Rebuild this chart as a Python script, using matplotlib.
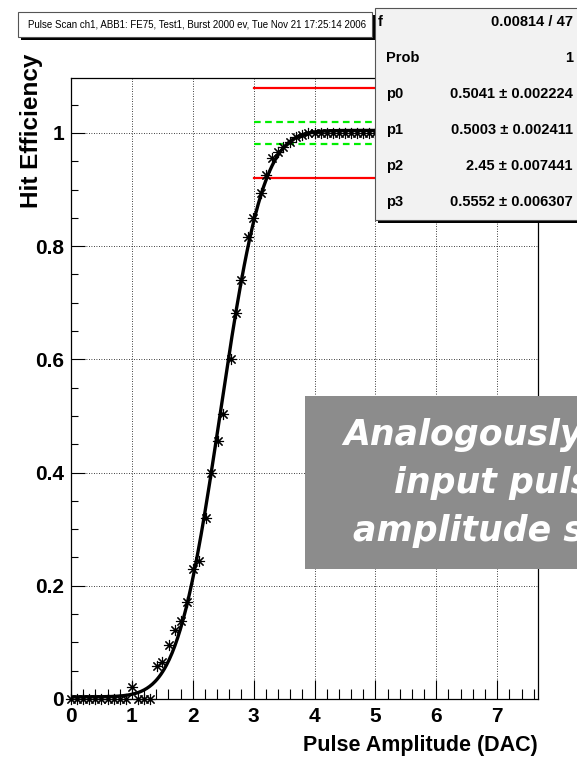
import math
import numpy as np
import matplotlib
matplotlib.use('Agg')
import matplotlib.pyplot as plt
from matplotlib.patches import Rectangle
from matplotlib.ticker import MultipleLocator

# pulse scan points (amplitude in DAC, hit efficiency)
amp = [0.0, 0.1, 0.2, 0.3, 0.4, 0.5, 0.6, 0.7, 0.8, 0.9,
       1.0, 1.1, 1.2, 1.3, 1.41, 1.5, 1.61, 1.71, 1.8, 1.9,
       2.0, 2.1, 2.21, 2.3, 2.41, 2.5, 2.62, 2.71, 2.8, 2.9,
       2.99, 3.12, 3.2, 3.3, 3.4, 3.48, 3.6, 3.7, 3.8, 3.9,
       4.0, 4.1, 4.2, 4.3, 4.4, 4.5, 4.6, 4.7, 4.8, 4.9,
       5.0, 5.1, 5.2, 5.3, 5.4, 5.5, 5.6, 5.7, 5.8, 5.9,
       6.0, 6.1, 6.2, 6.3, 6.4, 6.5, 6.6, 6.7, 6.8, 6.9,
       7.0, 7.1, 7.2, 7.3, 7.4, 7.5, 7.6]
eff = [0.0, 0.0, 0.0, 0.0, 0.0, 0.0, 0.0, 0.0, 0.0, 0.0,
       0.022, 0.0, 0.0, 0.0, 0.058, 0.065, 0.095, 0.122, 0.138, 0.172,
       0.229, 0.243, 0.32, 0.399, 0.455, 0.503, 0.60, 0.682, 0.74, 0.816,
       0.85, 0.894, 0.926, 0.955, 0.966, 0.975, 0.984, 0.993, 0.997, 0.999,
       1.0, 0.999, 1.0, 1.0, 0.999, 1.0, 1.0, 1.0, 0.999, 1.0,
       1.0, 1.0, 1.0, 0.999, 1.0, 1.0, 1.0, 1.0, 1.0, 1.0,
       1.0, 1.0, 1.0, 1.0, 1.0, 1.0, 1.0, 1.0, 1.0, 1.0,
       1.0, 1.0, 1.0, 1.0, 1.0, 1.0, 1.0]

# fit result (erf) as printed in the stats box
fit_names = ['p0', 'p1', 'p2', 'p3']
fit_vals = [0.5041, 0.5003, 2.45, 0.5552]
fit_errs = ['0.002224', '0.002411', '0.007441', '0.006307']
chi2_ndf = '0.00814 / 47'
prob = '1'

# limit lines drawn from 3 DAC onwards
red_levels = [1.08, 0.92]
green_levels = [1.02, 0.98]
band_start = 3.0

title = 'Pulse Scan ch1, ABB1: FE75, Test1, Burst 2000 ev, Tue Nov 21 17:25:14 2006'
note_lines = ['Analogously the', 'input pulse', 'amplitude scan']

W, H = 577, 757
fig = plt.figure(figsize=(W / 100, H / 100), dpi=100)
fig.patch.set_facecolor('white')


def fx(px):
    return px / W


def fy(py):
    return 1 - py / H


root_font = 'Liberation Sans'

ax = fig.add_axes([fx(71), fy(699), fx(538) - fx(71), fy(78) - fy(699)])
ax.set_xlim(0, 7.67)
ax.set_ylim(0, 1.097)

# grid
ax.xaxis.set_major_locator(MultipleLocator(1))
ax.xaxis.set_minor_locator(MultipleLocator(0.2))
ax.yaxis.set_major_locator(MultipleLocator(0.2))
ax.yaxis.set_minor_locator(MultipleLocator(0.05))
ax.grid(True, which='major', color='black', linestyle=(0, (1, 2)), linewidth=0.6)
ax.set_axisbelow(True)

ax.tick_params(axis='x', which='major', direction='in', length=14, width=0.8,
               top=False, labelsize=15, pad=6)
ax.tick_params(axis='x', which='minor', direction='in', length=7, width=0.8, top=False)
ax.tick_params(axis='y', which='major', direction='in', length=10, width=0.8,
               right=False, labelsize=15, pad=5)
ax.tick_params(axis='y', which='minor', direction='in', length=5, width=0.8, right=False)
for lab in ax.get_xticklabels() + ax.get_yticklabels():
    lab.set_fontfamily(root_font)
    lab.set_fontweight('bold')
ax.yaxis.set_major_formatter(plt.FuncFormatter(lambda v, p: '%g' % round(v, 2)))
for s in ax.spines.values():
    s.set_linewidth(0.9)

# fit curve
xs = np.linspace(0, 7.67, 500)
erf = np.vectorize(math.erf)
ys = fit_vals[0] + fit_vals[1] * erf((xs - fit_vals[2]) / (math.sqrt(2) * fit_vals[3]))
ax.plot(xs, ys, color='black', linewidth=2.4, zorder=3)

# data points
ax.plot(amp, eff, linestyle='none', marker=(8, 2, 0), markersize=8,
        markeredgewidth=0.8, color='black', clip_on=False, zorder=4)

# limit lines
for lv in red_levels:
    ax.plot([band_start, 7.67], [lv, lv], color='#ff0000', linewidth=1.6, zorder=2)
for lv in green_levels:
    ax.plot([band_start, 7.67], [lv, lv], color='#00ee00', linewidth=1.6,
            linestyle=(0, (3, 2)), zorder=2)

fig.text(fx(538), fy(745), 'Pulse Amplitude (DAC)', ha='right', va='center',
         fontsize=15.5, fontweight='bold', family=root_font)
fig.text(fx(32), fy(54), 'Hit Efficiency', ha='center', va='top', rotation=90,
         fontsize=17.5, fontweight='bold', family=root_font)

# stats box (its chi2 label is hidden behind the title box, only the "f" shows)
sx0, sy0, sx1, sy1 = 375, 8, 590, 220
fig.add_artist(Rectangle((fx(sx0 + 3), fy(sy1 + 3)), fx(sx1 - sx0), fy(sy0) - fy(sy1),
                         facecolor='black', edgecolor='none', zorder=5))
fig.add_artist(Rectangle((fx(sx0), fy(sy1)), fx(sx1 - sx0), fy(sy0) - fy(sy1),
                         facecolor='#f2f2f2', edgecolor='#555555', linewidth=0.8, zorder=5))
row_y = [22, 58, 94, 130, 166, 202]
labels = ['Prob'] + fit_names
values = ['%g \u00b1 %s' % (v, e) for v, e in zip(fit_vals, fit_errs)]
fig.text(fx(383), fy(row_y[0]), 'f', ha='right', va='center',
         fontsize=10.5, fontweight='bold', family=root_font, zorder=6)
fig.text(fx(573), fy(row_y[0]), chi2_ndf, ha='right', va='center', fontsize=10.5,
         fontweight='bold', family=root_font, zorder=6)
fig.text(fx(573), fy(row_y[1]), prob, ha='right', va='center', fontsize=10.5,
         fontweight='bold', family=root_font, zorder=6)
for yy, lab in zip(row_y[1:], labels):
    fig.text(fx(386), fy(yy), lab, ha='left', va='center', fontsize=10.5,
             fontweight='bold', family=root_font, zorder=6)
for yy, val in zip(row_y[2:], values):
    fig.text(fx(573), fy(yy), val, ha='right', va='center', fontsize=10.5,
             fontweight='bold', family=root_font, zorder=6)

# title box
tx0, ty0, tx1, ty1 = 18, 12, 372, 37
fig.add_artist(Rectangle((fx(tx0 + 3), fy(ty1 + 3)), fx(tx1 - tx0), fy(ty0) - fy(ty1),
                         facecolor='black', edgecolor='none', zorder=7))
fig.add_artist(Rectangle((fx(tx0), fy(ty1)), fx(tx1 - tx0), fy(ty0) - fy(ty1),
                         facecolor='white', edgecolor='#555555', linewidth=0.8, zorder=7))
fig.text(fx(tx0 + 10), fy((ty0 + ty1) / 2), title, ha='left', va='center',
         fontsize=7, family=root_font, zorder=8)

# grey note box
fig.add_artist(Rectangle((fx(305), fy(569)), fx(300), fy(396) - fy(569),
                         facecolor='#8c8c8c', edgecolor='none', zorder=9))
for (x0, y0), line in zip([(343, 445), (394, 493), (353, 541)], note_lines):
    fig.text(fx(x0), fy(y0), line, ha='left', va='baseline', fontsize=25,
             style='oblique', fontweight='bold', color='white', family='DejaVu Sans',
             zorder=10)

fig.savefig('out.png', dpi=100)
